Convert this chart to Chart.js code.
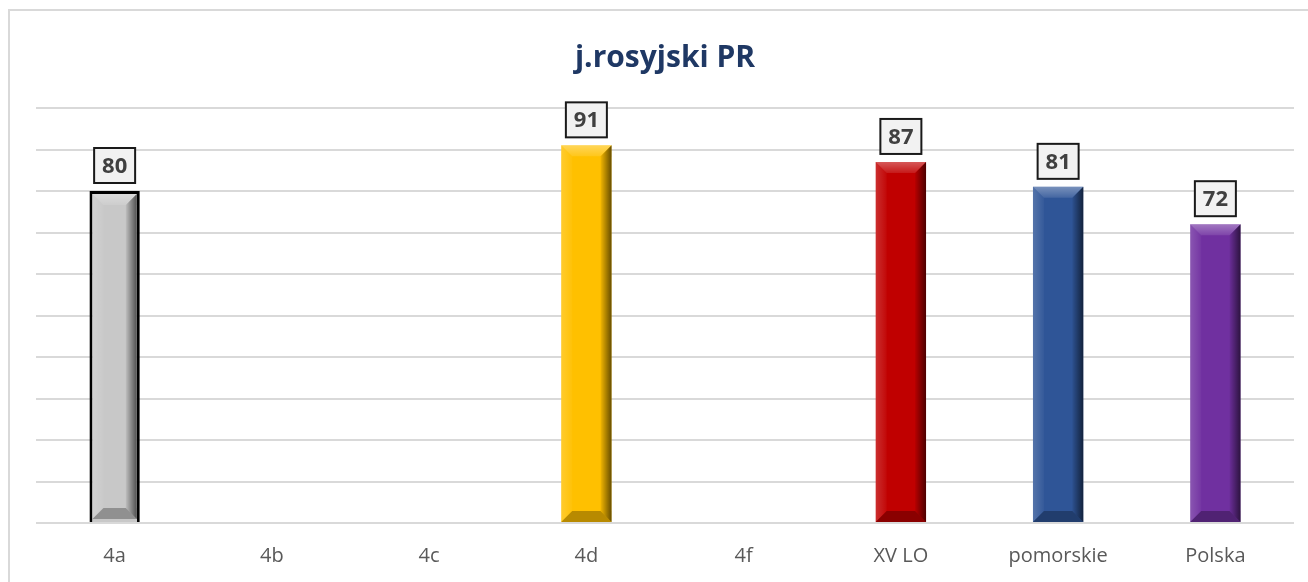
<!DOCTYPE html>
<html>
<head>
<meta charset="utf-8">
<script src="https://cdn.jsdelivr.net/npm/chart.js@4/dist/chart.umd.min.js"></script>
<style>
    html, body { margin: 0; padding: 0; background: #fff; }
    #wrap { position: relative; width: 1308px; height: 582px; overflow: hidden; }
    #frame { position: absolute; left: 8px; top: 9px; width: 1320px; height: 600px; border: 2px solid #d9d9d9; box-sizing: border-box; }
    #myChart { position: absolute; left: 0; top: 0; }
</style>
</head>
<body>
<div id="wrap">
    <div id="frame"></div>
    <canvas id="myChart" width="1308" height="582"></canvas>
</div>
<script>
// wyniki - j.rosyjski PR
const categories = ['4a', '4b', '4c', '4d', '4f', 'XV LO', 'pomorskie', 'Polska'];
const results = [80, null, null, 91, null, 87, 81, 72];
const barColors = ['#c8c8c8', '#c8c8c8', '#c8c8c8', '#ffc000', '#c8c8c8', '#c00000', '#2f5597', '#7030a0'];
const barBorders = [3, 0, 0, 0, 0, 0, 0, 0];

// bevel on each bar
const bevelPlugin = {
    id: 'bevel',
    afterDatasetsDraw(chart) {
        const ctx = chart.ctx;
        chart.getDatasetMeta(0).data.forEach(function(bar, i) {
            if (results[i] == null) return;
            const p = bar.getProps(['x', 'y', 'base', 'width'], true);
            const inset = barBorders[i];
            const l = p.x - p.width / 2 + inset, r = p.x + p.width / 2 - inset;
            const t = p.y + inset, b = p.base - inset;
            const s = 11;
            ctx.save();
            // top face
            ctx.beginPath();
            ctx.moveTo(l, t); ctx.lineTo(r, t); ctx.lineTo(r - s, t + s); ctx.lineTo(l + s, t + s); ctx.closePath();
            let g = ctx.createLinearGradient(0, t, 0, t + s);
            g.addColorStop(0, 'rgba(255,255,255,0.35)');
            g.addColorStop(1, 'rgba(255,255,255,0.1)');
            ctx.fillStyle = g;
            ctx.fill();
            // left side
            g = ctx.createLinearGradient(l, 0, l + s, 0);
            g.addColorStop(0, 'rgba(255,255,255,0.18)');
            g.addColorStop(1, 'rgba(255,255,255,0.03)');
            ctx.beginPath();
            ctx.moveTo(l, t); ctx.lineTo(l + s, t + s); ctx.lineTo(l + s, b - s); ctx.lineTo(l, b); ctx.closePath();
            ctx.fillStyle = g;
            ctx.fill();
            // right side
            g = ctx.createLinearGradient(r - s, 0, r, 0);
            g.addColorStop(0, 'rgba(0,0,0,0.05)');
            g.addColorStop(1, 'rgba(0,0,0,0.6)');
            ctx.beginPath();
            ctx.moveTo(r, t); ctx.lineTo(r, b); ctx.lineTo(r - s, b - s); ctx.lineTo(r - s, t + s); ctx.closePath();
            ctx.fillStyle = g;
            ctx.fill();
            // bottom face
            ctx.beginPath();
            ctx.moveTo(l, b); ctx.lineTo(r, b); ctx.lineTo(r - s, b - s); ctx.lineTo(l + s, b - s); ctx.closePath();
            ctx.fillStyle = 'rgba(0,0,0,0.28)';
            ctx.fill();
            ctx.restore();
        });
    }
};

// boxed value labels above bars
const valueLabels = {
    id: 'valueLabels',
    afterDatasetsDraw(chart) {
        const ctx = chart.ctx;
        chart.getDatasetMeta(0).data.forEach(function(bar, i) {
            const v = results[i];
            if (v == null) return;
            const p = bar.getProps(['x', 'y'], true);
            const w = 41, h = 35;
            const bottom = p.y - 8;
            ctx.save();
            ctx.fillStyle = '#f2f2f2';
            ctx.fillRect(p.x - w / 2, bottom - h, w, h);
            ctx.lineWidth = 2;
            ctx.strokeStyle = '#1a1a1a';
            ctx.strokeRect(p.x - w / 2, bottom - h, w, h);
            ctx.fillStyle = '#404040';
            ctx.font = 'bold 22px "Open Sans"';
            ctx.textAlign = 'center';
            ctx.textBaseline = 'middle';
            ctx.fillText(String(v), p.x, bottom - h / 2 + 1);
            ctx.restore();
        });
    }
};

new Chart(document.getElementById('myChart'), {
    type: 'bar',
    data: {
        labels: categories,
        datasets: [{
            data: results,
            backgroundColor: barColors,
            borderColor: '#000',
            borderWidth: barBorders,
            barPercentage: 0.32,
            categoryPercentage: 1.0
        }]
    },
    options: {
        responsive: false,
        animation: false,
        layout: { padding: { left: 36, right: 14, top: 0, bottom: 0 } },
        plugins: {
            legend: { display: false },
            tooltip: { enabled: false },
            title: {
                display: true,
                text: 'j.rosyjski PR',
                color: '#1f3864',
                font: { family: 'Open Sans', size: 30, weight: 'bold' },
                padding: { top: 40, bottom: 32 }
            }
        },
        scales: {
            x: {
                grid: { display: false, drawTicks: false },
                border: { display: false },
                ticks: { color: '#595959', font: { family: 'Open Sans', size: 20 }, padding: 21 },
                afterFit: function(scale) { scale.height = 59; }
            },
            y: {
                min: 0,
                max: 100,
                ticks: { display: false, stepSize: 10 },
                grid: { color: '#d9d9d9', lineWidth: 2, drawTicks: false },
                border: { display: false }
            }
        }
    },
    plugins: [bevelPlugin, valueLabels]
});
</script>
</body>
</html>
